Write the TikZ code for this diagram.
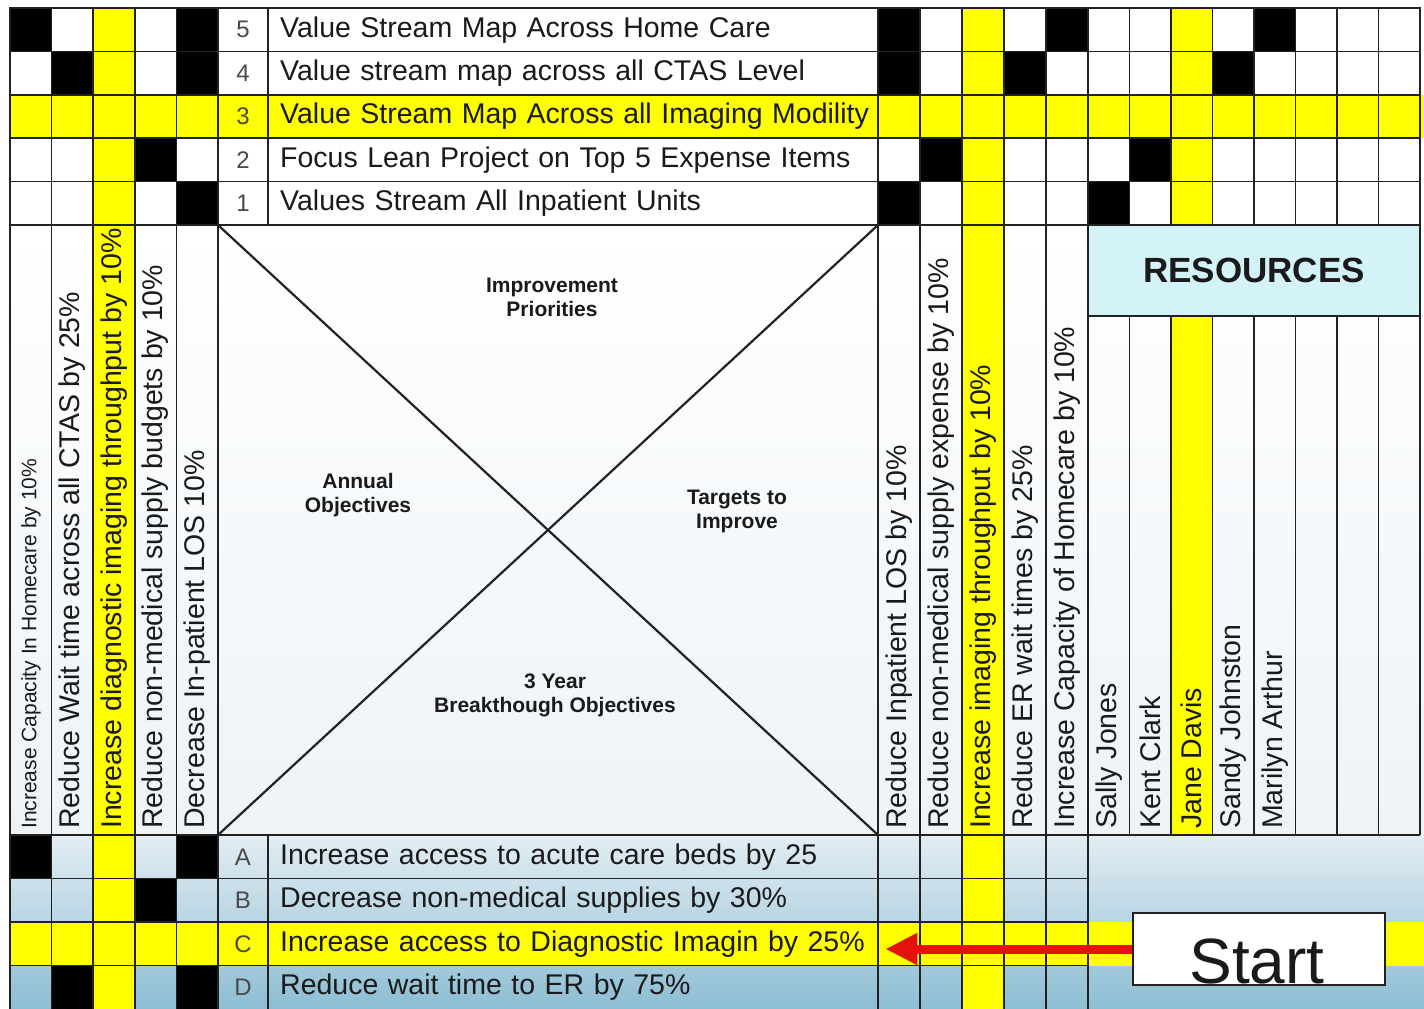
\documentclass[tikz,border=0pt]{standalone}
\usepackage{fontspec}
\setmainfont{Liberation Sans}
\usetikzlibrary{positioning,arrows.meta,calc}
\definecolor{hiyel}{HTML}{FFFF00}
\definecolor{ink}{HTML}{1A1A1A}
\definecolor{rule}{HTML}{222222}
\definecolor{numgray}{HTML}{4A4A4A}
\definecolor{resbg}{HTML}{D3F3F9}
\definecolor{midbg}{HTML}{EDF3F7}
\definecolor{lowtop}{HTML}{E3EDF3}
\definecolor{lowbot}{HTML}{8DBDD3}
\definecolor{startred}{HTML}{E3120B}
\tikzset{
  gridline/.style={line width=1.6pt,draw=rule},
  frameline/.style={line width=2.8pt,draw=rule},
  diagline/.style={line width=2.2pt,draw=rule},
  hitcell/.style={fill=black},
  keycell/.style={fill=hiyel},
  numlbl/.style={font=\fontsize{24}{26}\selectfont,text=numgray,inner sep=0pt},
  rowlbl/.style={anchor=west,inner sep=0pt,text width=598pt,align=left,
    font=\fontsize{28.5}{30}\selectfont,text=ink},
  collbl/.style={rotate=90,anchor=west,inner sep=0pt,
    font=\fontsize{28.5}{31}\selectfont,text=ink},
  quadlbl/.style={align=center,font=\bfseries\fontsize{21}{24}\selectfont,text=ink},
  reslbl/.style={font=\bfseries\fontsize{35}{38}\selectfont,text=ink},
  startbox/.style={draw=rule,line width=1.8pt,fill=white,
    minimum width=252pt,minimum height=72pt,inner sep=0pt},
  starttxt/.style={font=\fontsize{64}{66}\selectfont,anchor=base,inner sep=0pt,text=ink},
  startarrow/.style={-{Triangle[length=32pt,width=30pt]},line width=9pt,draw=startred},
}

\begin{document}
\begin{tikzpicture}[x=1pt,y=-1pt]
  \useasboundingbox (0,0) rectangle (1424,1009);
  % backgrounds
  \fill[white] (0,0) rectangle (1424,1009);
  \shade[top color=white,bottom color=midbg] (10,225) rectangle (1424,835);
  \shade[top color=lowtop,bottom color=lowbot] (10,835) rectangle (1424,1009);
  \fill[resbg] (1088,225) rectangle (1420,316);
  % highlighted rows and columns
  \fill[keycell] (10,94.8) rectangle (1424,138.2);
  \fill[keycell] (10,922) rectangle (1424,965.5);
  \fill[keycell] (93.2,8) rectangle (134.8,1009);
  \fill[keycell] (962,8) rectangle (1004,1009);
  \fill[keycell] (1171,8) rectangle (1212.5,225);
  \fill[keycell] (1171,316) rectangle (1212.5,835);
  % correlation marks
  \foreach \x/\y in {10/8,176.4/8,878/8,1046/8,1254/8,
                     51.6/51.4,176.4/51.4,878/51.4,1004/51.4,1212.5/51.4,
                     134.8/138.2,920/138.2,1129.5/138.2,
                     176.4/181.6,878/181.6,1088/181.6,
                     10/835,176.4/835,134.8/878.5,51.6/965.5,176.4/965.5}
    \fill[hitcell] (\x,\y) rectangle ++(42,43.5);
  % grid
  \foreach \y in {51.4,94.8,138.2,181.6}
    \draw[gridline] (10,\y) -- (1420,\y);
  \foreach \y in {878.5,922,965.5}
    \draw[gridline] (10,\y) -- (1088,\y);
  \draw[gridline] (1088,316) -- (1420,316);
  \foreach \x in {51.6,93.2,134.8,176.4,920,962,1004,1046}
    \draw[gridline] (\x,8) -- (\x,1009);
  \draw[gridline] (268,8) -- (268,225) (268,835) -- (268,1009);
  \foreach \x in {1129.5,1171,1212.5,1254,1295.5,1337,1378.5}
    \draw[gridline] (\x,8) -- (\x,225) (\x,316) -- (\x,835);
  \draw[frameline] (10,1009) -- (10,8) -- (1420,8) -- (1420,835);
  \foreach \x in {218,878,1088}
    \draw[frameline] (\x,8) -- (\x,1009);
  \draw[frameline] (10,225) -- (1420,225) (10,835) -- (1420,835);
  \draw[diagline] (218,225) -- (878,835) (878,225) -- (218,835);
  % improvement priorities
  \foreach \k/\y/\txt in {5/29.7/{Value Stream Map Across Home Care},
                          4/73.1/{Value stream map across all CTAS Level},
                          3/116.5/{Value Stream Map Across all Imaging Modility},
                          2/159.9/{Focus Lean Project on Top 5 Expense Items},
                          1/203.3/{Values Stream All Inpatient Units}}{
    \node[numlbl] (n\k) at (243,\y) {\k};
    \node[rowlbl] (p\k) at (280,\y) {\txt};
  }
  % breakthrough objectives
  \foreach \k/\y/\txt in {A/856.8/{Increase access to acute care beds by 25},
                          B/900.3/{Decrease non-medical supplies by 30\%},
                          C/943.8/{Increase access to Diagnostic Imagin by 25\%},
                          D/987.3/{Reduce wait time to ER by 75\%}}{
    \node[numlbl] (n\k) at (243,\y) {\k};
    \node[rowlbl] (b\k) at (280,\y) {\txt};
  }
  % annual objectives
  \node[collbl,font=\fontsize{21}{23}\selectfont] (ob1) at (31,829) {Increase Capacity In Homecare by 10\%};
  \foreach \k/\x/\txt in {2/72.4/{Reduce Wait time across all CTAS by 25\%},
                          3/114/{Increase diagnostic imaging throughput by 10\%},
                          4/155.6/{Reduce non-medical supply budgets by 10\%},
                          5/197.2/{Decrease In-patient LOS 10\%}}
    \node[collbl] (ob\k) at (\x,829) {\txt};
  % targets to improve
  \foreach \k/\x/\txt in {1/899/{Reduce Inpatient LOS by 10\%},
                          2/941/{Reduce non-medical supply expense by 10\%},
                          3/983/{Increase imaging throughput by 10\%},
                          4/1025/{Reduce ER wait times by 25\%},
                          5/1067/{Increase Capacity of Homecare by 10\%}}
    \node[collbl] (tg\k) at (\x,829) {\txt};
  % resources
  \node[reslbl] (reshead) at (1254,270) {RESOURCES};
  \foreach \k/\x/\txt in {1/1108.75/{Sally Jones},2/1150.25/{Kent Clark},
                          3/1191.75/{Jane Davis},4/1233.25/{Sandy Johnston},
                          5/1274.75/{Marilyn Arthur}}
    \node[collbl] (rs\k) at (\x,829) {\txt};
  % quadrant titles
  \node[quadlbl] (qtop) at (552,297) {Improvement\\Priorities};
  \node[quadlbl] (qleft) at (358,495) {Annual\\Objectives};
  \node[quadlbl] (qright) at (737,511) {Targets to\\Improve};
  \node[quadlbl] (qbot) at (555,695) {3 Year\\Breakthough Objectives};
  % start marker
  \node[startbox] (start) at (1259,949) {};
  \node[starttxt] (starttext) at ($(start.south)+(-2,-2)$) {Start};
  \draw[startarrow] (start.west) -- ($(start.west -| bC.east)+(7,0)$);
\end{tikzpicture}
\end{document}
